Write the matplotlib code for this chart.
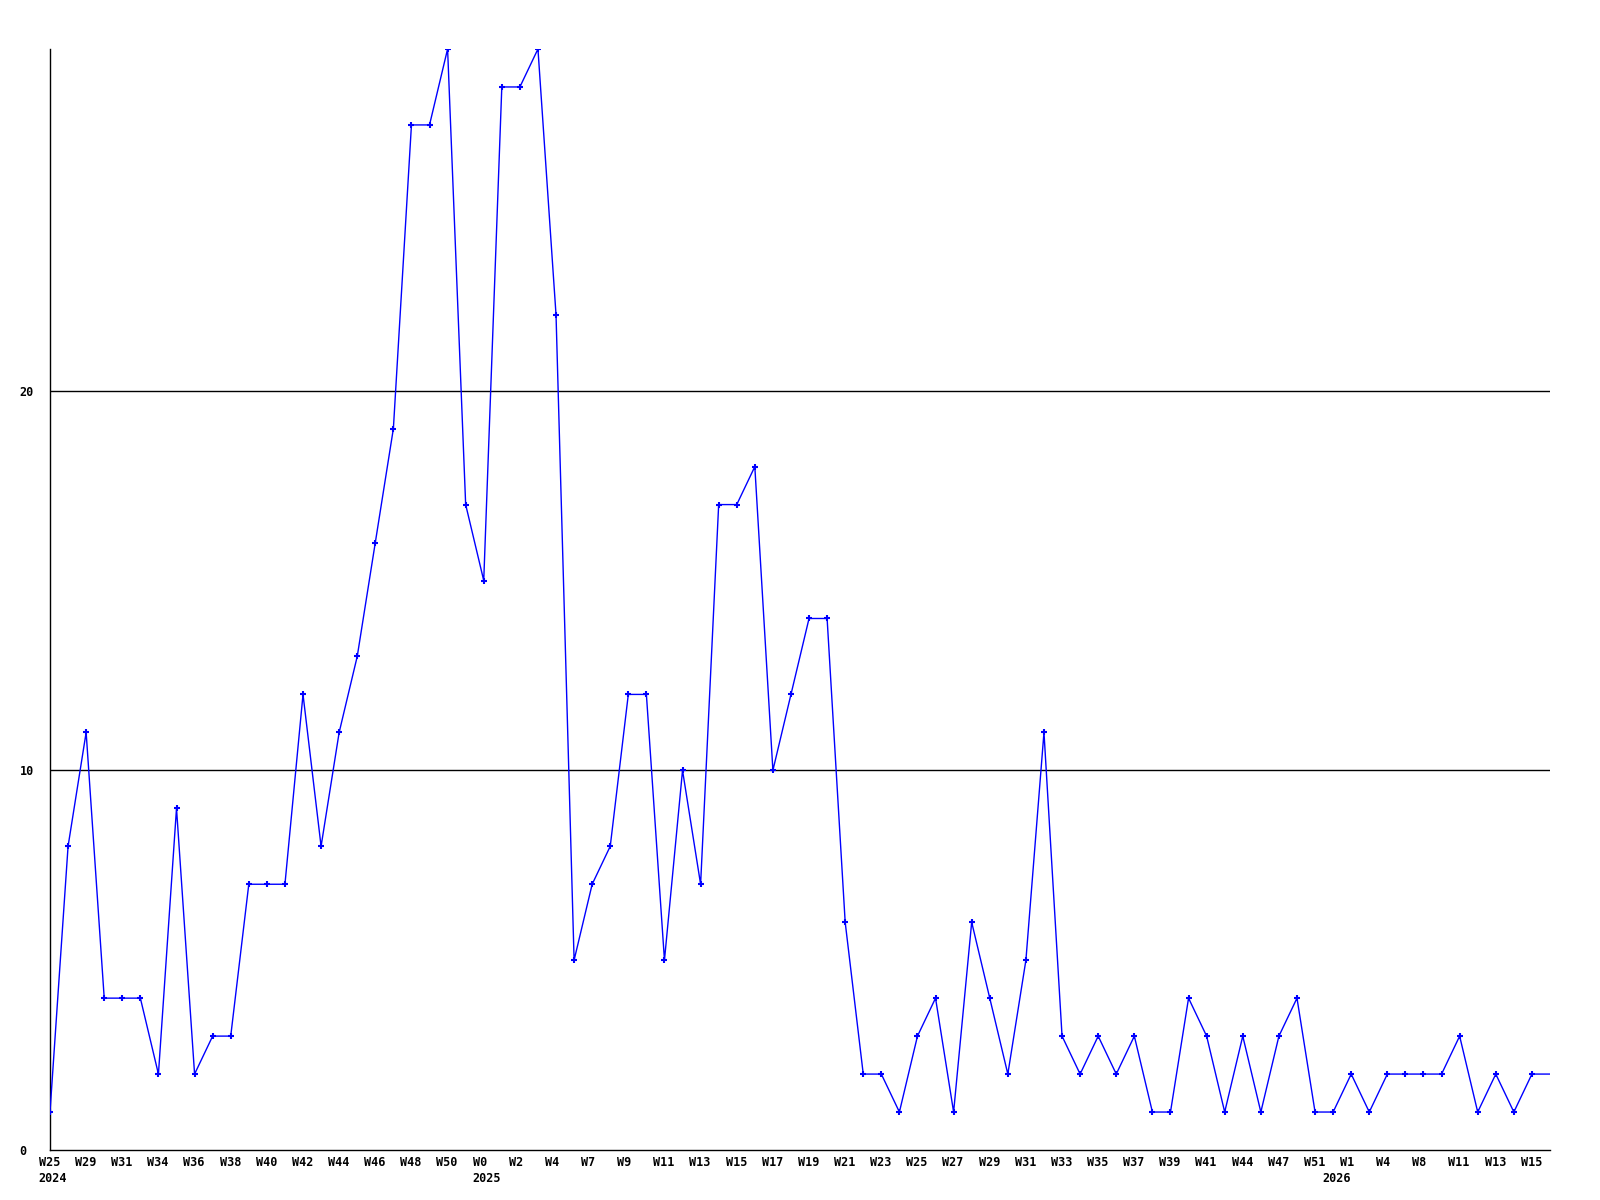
import matplotlib
matplotlib.use("Agg")
import matplotlib.pyplot as plt
import matplotlib.transforms as mtransforms
import numpy as np

# valores semanais (um ponto por amostra)
valores = [1, 8, 11, 4, 4, 4, 2, 9, 2, 3,
           3, 7, 7, 7, 12, 8, 11, 13, 16, 19,
           27, 27, 29, 17, 15, 28, 28, 29, 22, 5,
           7, 8, 12, 12, 5, 10, 7, 17, 17, 18,
           10, 12, 14, 14, 6, 2, 2, 1, 3, 4,
           1, 6, 4, 2, 5, 11, 3, 2, 3, 2,
           3, 1, 1, 4, 3, 1, 3, 1, 3, 4,
           1, 1, 2, 1, 2, 2, 2, 2, 3, 1,
           2, 1, 2, 2]

# rotulos de semana (a cada 2 pontos)
semanas = ["W25", "W29", "W31", "W34", "W36", "W38", "W40", "W42", "W44", "W46",
           "W48", "W50", "W0", "W2", "W4", "W7", "W9", "W11", "W13", "W15",
           "W17", "W19", "W21", "W23", "W25", "W27", "W29", "W31", "W33", "W35",
           "W37", "W39", "W41", "W44", "W47", "W51", "W1", "W4", "W8", "W11",
           "W13", "W15"]

anos = ["2024", "2025", "2026"]
anos_idx = [0, 24, 71]

y_ticks = [0, 10, 20]

FONTE = "DejaVu Sans Mono"
AZUL = "#0000ff"

x = np.arange(len(valores))

fig = plt.figure(figsize=(16, 12), dpi=100)
ax = fig.add_axes([50 / 1600, 1 - 1150 / 1200, 1500 / 1600, 1101 / 1200])

for yv in y_ticks[1:]:
    ax.axhline(yv, color="black", linewidth=1.0, zorder=1)

ax.plot(x, valores, color=AZUL, linewidth=1.0, marker="+", markersize=4.5,
        markeredgewidth=1.5, markevery=list(range(len(valores) - 1)), zorder=3)

ax.set_xlim(0, len(valores) - 1)
ax.set_ylim(0, 29)

ax.spines["top"].set_visible(False)
ax.spines["right"].set_visible(False)
ax.spines["left"].set_linewidth(1.0)
ax.spines["bottom"].set_linewidth(1.0)

ax.set_xticks([])
ax.set_yticks(y_ticks)
ax.set_yticklabels([str(v) for v in y_ticks], fontfamily=FONTE,
                   fontweight="bold", fontsize=8.5, ha="left")
ax.tick_params(axis="y", length=0, pad=22)

# rotulos alinhados a esquerda, ~11px antes do ponto
desloc = mtransforms.ScaledTranslation(-11.2 / 100, 0, fig.dpi_scale_trans)
trans = mtransforms.blended_transform_factory(ax.transData, ax.transAxes) + desloc

for xi, sem in zip(x[::2], semanas):
    ax.text(xi, -0.0118, sem, transform=trans, ha="left", va="center",
            fontfamily=FONTE, fontweight="bold", fontsize=8.5, clip_on=False)

for ano, idx in zip(anos, anos_idx):
    ax.text(idx, -0.0255, ano, transform=trans, ha="left", va="center",
            fontfamily=FONTE, fontweight="bold", fontsize=8.5, clip_on=False)

plt.savefig("out.png", dpi=100)
